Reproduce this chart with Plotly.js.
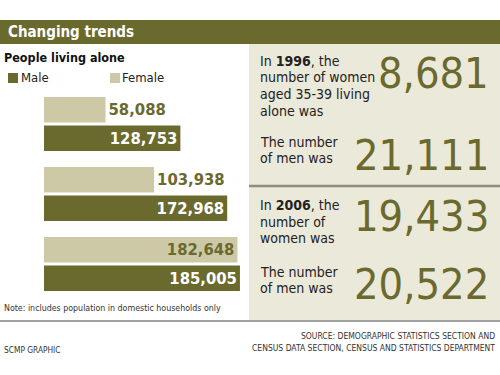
<!DOCTYPE html>
<html>
<head>
<meta charset="utf-8">
<script src="https://cdn.plot.ly/plotly-3.0.1.min.js"></script>
<style>html,body{margin:0;padding:0;background:#fff;}#chart{width:500px;height:375px;}</style>
</head>
<body>
<div id="chart"></div>
<script>
// Data
const years = ['1986', '1996', '2006'];
const maleValues = [128753, 172968, 185005];
const femaleValues = [58088, 103938, 182648];
const femaleTextPos = ['outside', 'outside', 'inside'];
const factYears = ['1996', '2006'];
const womenFacts = [8681, 19433];
const menFacts = [21111, 20522];

const OLIVE = '#6b6a2e';
const BEIGE = '#cdc9a6';
const PANEL = '#ebe9da';
const NARROW = '"DejaVu Sans Condensed", "Liberation Sans Narrow", sans-serif';

const W = 500, H = 375;
const px = x => x / W;
const py = y => 1 - y / H;
const fmt = v => v.toLocaleString('en-US');

const LBL = 16.5;
const traces = [
  {
    type: 'bar', orientation: 'h', name: 'Female',
    y: years, x: femaleValues,
    marker: {color: BEIGE},
    text: femaleValues.map(fmt),
    textposition: femaleTextPos,
    insidetextanchor: 'end',
    textfont: {family: NARROW, size: LBL, color: OLIVE, weight: 'bold'},
    outsidetextfont: {family: NARROW, size: LBL, color: OLIVE, weight: 'bold'},
    insidetextfont: {family: NARROW, size: LBL, color: OLIVE, weight: 'bold'},
    constraintext: 'none', cliponaxis: false, hoverinfo: 'skip'
  },
  {
    type: 'bar', orientation: 'h', name: 'Male',
    y: years, x: maleValues,
    marker: {color: OLIVE},
    text: maleValues.map(fmt),
    textposition: 'inside',
    insidetextanchor: 'end',
    textfont: {family: NARROW, size: LBL, color: '#ffffff', weight: 'bold'},
    constraintext: 'none', cliponaxis: false, hoverinfo: 'skip'
  }
];

const shapes = [
  {type: 'rect', xref: 'paper', yref: 'paper', x0: 0, x1: 1, y0: py(44), y1: py(20), fillcolor: OLIVE, line: {width: 0}, layer: 'below'},
  {type: 'rect', xref: 'paper', yref: 'paper', x0: px(249), x1: 1, y0: py(320), y1: py(44), fillcolor: PANEL, line: {width: 0}, layer: 'below'},
  {type: 'line', xref: 'paper', yref: 'paper', x0: px(249), x1: 1, y0: py(186), y1: py(186), line: {color: '#8d8d80', width: 2.5}},
  {type: 'line', xref: 'paper', yref: 'paper', x0: 0, x1: 1, y0: py(321), y1: py(321), line: {color: '#a0a0a0', width: 2}},
  {type: 'rect', xref: 'paper', yref: 'paper', x0: px(8), x1: px(18), y0: py(83), y1: py(73), fillcolor: OLIVE, line: {width: 0}},
  {type: 'rect', xref: 'paper', yref: 'paper', x0: px(110), x1: px(120), y0: py(83), y1: py(73), fillcolor: BEIGE, line: {width: 0}}
];

function txt(text, x, y, size, color, opts) {
  return Object.assign({
    text: text, xref: 'paper', yref: 'paper', x: px(x), y: py(y),
    xanchor: 'left', yanchor: 'middle', showarrow: false,
    font: {family: NARROW, size: size, color: color}
  }, opts || {});
}

const BODY = 14;
const BIG = 43;
const DARK = '#222222';
const annotations = [
  txt('<b>Changing trends</b>', 6, 32, 15, '#ffffff'),
  txt('<b>People living alone</b>', 2, 57, 12.5, '#111111'),
  txt('Male', 19, 78, 13, DARK),
  txt('Female', 120, 78, 13, DARK),
  txt('Note: includes population in domestic households only', 2, 308, 8.8, '#333333'),
  txt('SCMP GRAPHIC', 2, 350, 8.3, '#333333'),
  txt('SOURCE: DEMOGRAPHIC STATISTICS SECTION AND', 497, 336, 8.5, '#333333', {xanchor: 'right'}),
  txt('CENSUS DATA SECTION, CENSUS AND STATISTICS DEPARTMENT', 497, 348, 8.5, '#333333', {xanchor: 'right'}),
  // right panel texts
  txt('In <b>' + factYears[0] + '</b>, the', 258, 61, BODY, DARK),
  txt('number of women', 258, 77, BODY, DARK),
  txt('aged 35-39 living', 258, 94, BODY, DARK),
  txt('alone was', 258, 111, BODY, DARK),
  txt('The number', 258, 142, BODY, DARK),
  txt('of men was', 258, 158, BODY, DARK),
  txt('In <b>' + factYears[1] + '</b>, the', 258, 205, BODY, DARK),
  txt('number of', 258, 222, BODY, DARK),
  txt('women was', 258, 238, BODY, DARK),
  txt('The number', 258, 272, BODY, DARK),
  txt('of men was', 258, 288, BODY, DARK),
  txt(fmt(womenFacts[0]), 491, 73, BIG, OLIVE, {xanchor: 'right'}),
  txt(fmt(menFacts[0]), 491, 155, BIG, OLIVE, {xanchor: 'right'}),
  txt(fmt(womenFacts[1]), 491, 216, BIG, OLIVE, {xanchor: 'right'}),
  txt(fmt(menFacts[1]), 491, 284, BIG, OLIVE, {xanchor: 'right'})
];

years.forEach(yr => {
  annotations.push({
    text: '<b>' + yr + '</b>', xref: 'paper', yref: 'y', x: px(5), y: yr,
    xanchor: 'left', yanchor: 'middle', yshift: -6, showarrow: false,
    font: {family: NARROW, size: 13.5, color: '#111111'}
  });
});

const layout = {
  width: W, height: H,
  margin: {l: 0, r: 0, t: 0, b: 0, pad: 0},
  paper_bgcolor: '#ffffff', plot_bgcolor: 'rgba(0,0,0,0)',
  showlegend: false,
  barmode: 'group', bargap: 0.186, bargroupgap: 0.1,
  xaxis: {domain: [px(44), px(241)], range: [0, 186000], visible: false, fixedrange: true},
  yaxis: {domain: [py(299), py(89)], type: 'category', range: [2.5, -0.5], visible: false, fixedrange: true},
  shapes: shapes,
  annotations: annotations
};

Plotly.newPlot('chart', traces, layout, {displayModeBar: false, staticPlot: true});
</script>
</body>
</html>
